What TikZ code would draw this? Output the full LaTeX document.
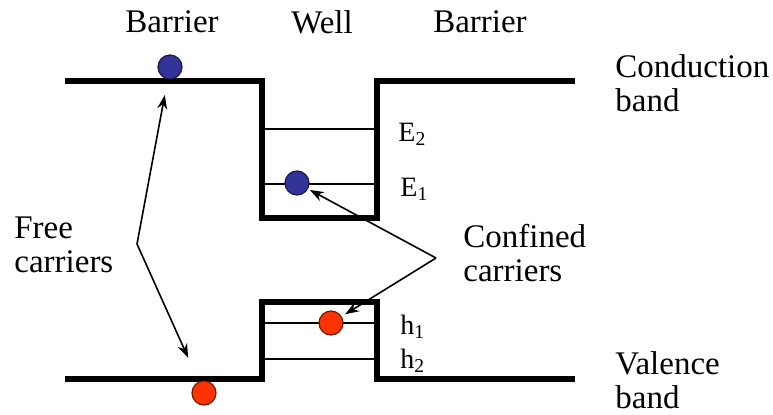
\documentclass[tikz,border=0pt]{standalone}
\usepackage{fontspec}
\setmainfont{Liberation Serif}
\usetikzlibrary{arrows.meta}
\definecolor{cElec}{HTML}{333399}
\definecolor{cHole}{HTML}{FF3300}
\tikzset{
  band/.style  = {line width=2.6pt, line join=miter},
  level/.style = {line width=0.7pt},
  elec/.style  = {circle, draw=cElec!50!black, fill=cElec, line width=0.6pt,
                  minimum size=12pt, inner sep=0pt},
  hole/.style  = {circle, draw=cHole!45!black, fill=cHole, line width=0.6pt,
                  minimum size=12pt, inner sep=0pt},
  lbl/.style   = {font=\fontsize{16.5}{17}\selectfont, align=left, inner sep=0pt},
  lvl/.style   = {font=\fontsize{14}{16}\selectfont, anchor=west, inner sep=0pt},
  ptr/.style   = {-{Stealth[length=7pt,width=5pt]}, line width=0.8pt},
}
\begin{document}
\begin{tikzpicture}[x=0.5pt, y=-0.5pt]
  \useasboundingbox (0,0) rectangle (773,414);

  % confined levels
  \draw[level] (262,129) -- (377,129);
  \draw[level] (262,184) -- (377,184);
  \draw[level] (262,323) -- (377,323);
  \draw[level] (262,359) -- (377,359);

  % band edges
  \draw[band] (65,81) -- (262,81) -- (262,218) -- (377,218) -- (377,81) -- (575,81);
  \draw[band] (65,379) -- (262,379) -- (262,302) -- (377,302) -- (377,379) -- (575,379);

  % carriers
  \node[elec] (eb) at (170,67) {};
  \node[elec] (ew) at (297,183) {};
  \node[hole] (hw) at (331,323) {};
  \node[hole] (hb) at (204,393) {};

  % labels
  \node[lbl] (bl) at (172,22) {Barrier};
  \node[lbl] (wl) at (322,22) {Well};
  \node[lbl] (br) at (480,22) {Barrier};
  \node[lbl, anchor=north west] (cb) at (615,54) {Conduction\\band};
  \node[lbl, anchor=north west] (vb) at (615,351) {Valence\\band};
  \node[lbl, anchor=north west] (fc) at (14,216) {Free\\carriers};
  \node[lbl, anchor=north west] (cc) at (463,224) {Confined\\carriers};

  \node[lvl] (e2) at (398,134) {E\textsubscript{2}};
  \node[lvl] (e1) at (400,189) {E\textsubscript{1}};
  \node[lvl] (h1) at (400,327) {h\textsubscript{1}};
  \node[lvl] (h2) at (400,361) {h\textsubscript{2}};

  % pointers
  \coordinate (fv) at (137,244);
  \coordinate (cv) at (436,258);
  \draw[ptr, shorten >=8pt] (fv) -- (eb);
  \draw[ptr, shorten >=13pt] (fv) -- (hb);
  \draw[ptr, shorten >=1pt] (cv) -- (ew);
  \draw[ptr, shorten >=2pt] (cv) -- (hw);
\end{tikzpicture}
\end{document}
